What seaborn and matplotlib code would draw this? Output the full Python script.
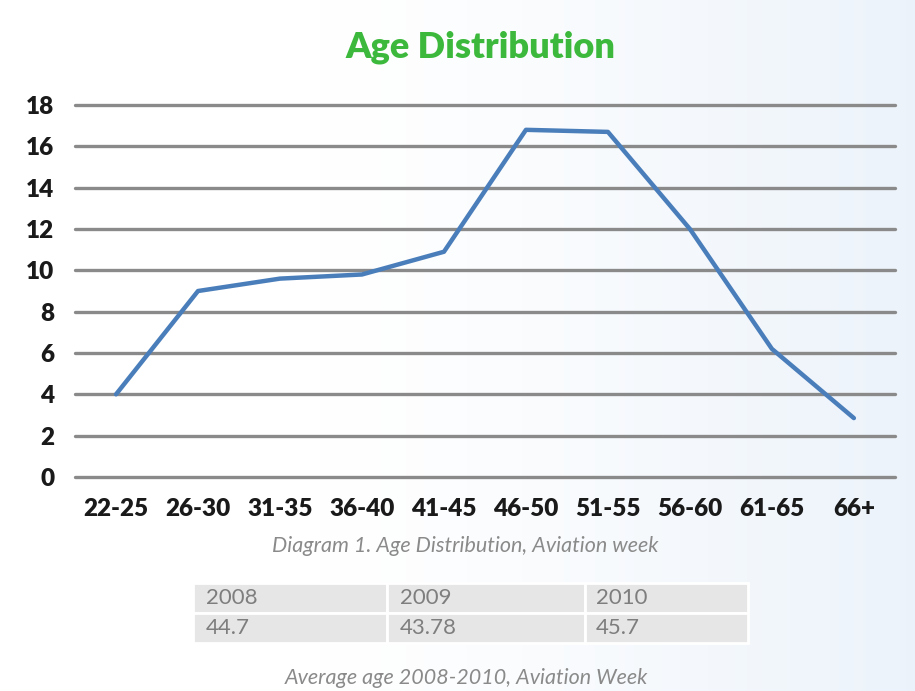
import numpy as np
import pandas as pd
import matplotlib.pyplot as plt
import seaborn as sns

# values
age_groups = ['22-25', '26-30', '31-35', '36-40', '41-45',
              '46-50', '51-55', '56-60', '61-65', '66+']
share = [4.0, 9.0, 9.6, 9.8, 10.9, 16.8, 16.7, 12.0, 6.2, 2.85]
y_ticks = [0, 2, 4, 6, 8, 10, 12, 14, 16, 18]

# average age table
years = ['2008', '2009', '2010']
avg_age = ['44.7', '43.78', '45.7']

df = pd.DataFrame({'age': age_groups, 'share': share})

sns.set_style('white')
plt.rcParams['font.family'] = ['Lato', 'DejaVu Sans']

fig = plt.figure(figsize=(9.15, 6.91), dpi=100)

# soft white -> light blue background
bg = fig.add_axes([0, 0, 1, 1], zorder=-10)
t = np.linspace(0, 1, 300)
w = np.clip((t - 0.35) / 0.65, 0, 1) ** 1.3
end = np.array([0.925, 0.952, 0.982])
row = (1 - w)[:, None] * np.ones(3) + w[:, None] * end
img = np.repeat(row[None, :, :], 10, axis=0)
bg.imshow(img, aspect='auto', extent=[0, 1, 0, 1])
bg.axis('off')

ax = fig.add_axes([0.082, 0.3097, 0.896, 0.5383])
ax.set_facecolor('none')
sns.lineplot(data=df, x='age', y='share', sort=False, color='#4a7ebb',
             linewidth=3.2, ax=ax)
ax.set_xlim(-0.5, len(age_groups) - 0.5)
ax.set_ylim(0, 18)
ax.set_yticks(y_ticks)
ax.set_axisbelow(True)
ax.yaxis.grid(True, color='#8a8a8a', linewidth=2.4)
ax.xaxis.grid(False)
# keep the 0 and 18 lines at full width
for gl in ax.get_ygridlines():
    gl.set_clip_on(False)
sns.despine(ax=ax, left=True, bottom=True)
ax.set_xlabel('')
ax.set_ylabel('')
ax.tick_params(axis='both', length=0, labelsize=17.5, labelcolor='#1a1a1a', pad=15)
for lab in ax.get_xticklabels() + ax.get_yticklabels():
    lab.set_fontweight('heavy')

fig.text(0.5246, 1 - 47 / 691, 'Age Distribution', color='#3cb93c',
         fontsize=26, fontweight='heavy', ha='center', va='center')

fig.text(0.509, 1 - 546 / 691, 'Diagram 1. Age Distribution, Aviation week',
         color='#8a8a8a', fontsize=15.5, style='italic', ha='center', va='center')

# table with yearly averages
tax = fig.add_axes([0.211, 0.0695, 0.6066, 0.0868])
tax.axis('off')
tab = tax.table(cellText=[years, avg_age], cellLoc='left', bbox=[0, 0, 1, 1],
                colWidths=[0.35, 0.357, 0.293])
tab.auto_set_font_size(False)
for (r, c), cell in tab.get_celld().items():
    cell.set_facecolor('#e6e6e6')
    cell.set_edgecolor('white')
    cell.set_linewidth(2)
    cell.PAD = 0.065
    cell.get_text().set_color('#7e7e7e')
    cell.get_text().set_fontsize(16)

fig.text(0.51, 1 - 678 / 691, 'Average age 2008-2010, Aviation Week',
         color='#8a8a8a', fontsize=15.5, style='italic', ha='center', va='center')

fig.savefig('out.png', dpi=100)
